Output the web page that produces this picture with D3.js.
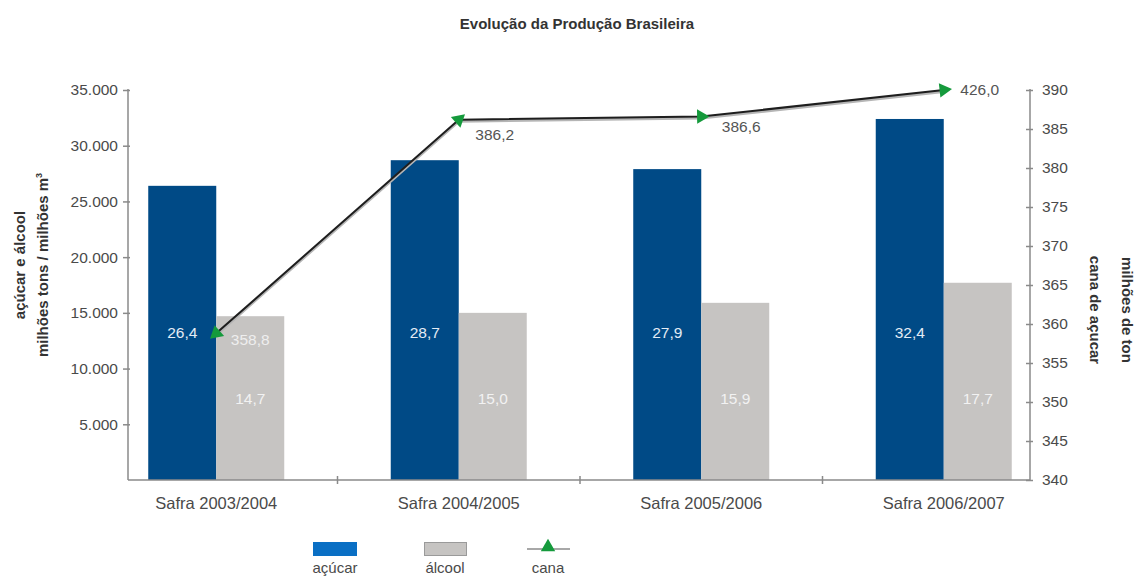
<!DOCTYPE html>
<html>
<head>
<meta charset="utf-8">
<script src="https://cdn.jsdelivr.net/npm/d3@7"></script>
<style>
  html, body { margin: 0; padding: 0; background: #ffffff; }
  svg { display: block; font-family: "Liberation Sans", Arial, Helvetica, sans-serif; }
</style>
</head>
<body>
<svg id="chart" width="1135" height="580"></svg>
<script>
// Safras (categories)
const categories = ["Safra 2003/2004", "Safra 2004/2005", "Safra 2005/2006", "Safra 2006/2007"];
// Açúcar, milhões de toneladas
const acucar = [26.4, 28.7, 27.9, 32.4];
// Álcool, milhões de m³
const alcool = [14.7, 15.0, 15.9, 17.7];
// Cana de açúcar, milhões de toneladas
const cana = [358.8, 386.2, 386.6, 426.0];
// Axis ticks
const leftTicks = [5000, 10000, 15000, 20000, 25000, 30000, 35000];
const rightTicks = [340, 345, 350, 355, 360, 365, 370, 375, 380, 385, 390];
const seriesNames = ["açúcar", "álcool"];

const ptBR = d3.formatLocale({ decimal: ",", thousands: ".", grouping: [3], currency: ["R$", ""] });
const fmtThousands = ptBR.format(",.0f");
const fmtOne = ptBR.format(".1f");

const svg = d3.select("#chart");
const plot = { left: 128, right: 1030, top: 90, bottom: 480 };

const colBlue = "#004a86";
const colGray = "#c6c4c2";
const colAxis = "#8a8a8a";
const colText = "#4a4a4a";

// Scales
const x0 = d3.scaleBand().domain(categories).range([95, 1065]);
const x1 = d3.scaleBand().domain(seriesNames).range([0, x0.bandwidth()]).paddingInner(0).paddingOuter(0.783);
const yL = d3.scaleLinear().domain([0, 35000]).range([plot.bottom, plot.top]);
// cane values above the top of the scale are pinned to its edge
const yR = d3.scaleLinear().domain([340, 390]).range([plot.bottom, plot.top]).clamp(true);

// Title
svg.append("text")
  .attr("x", 577).attr("y", 29)
  .attr("text-anchor", "middle")
  .attr("font-size", 15).attr("font-weight", "bold")
  .attr("fill", "#333")
  .text("Evolução da Produção Brasileira");

// Bars
const groups = svg.append("g").selectAll("g")
  .data(categories)
  .join("g")
  .attr("transform", d => `translate(${x0(d)},0)`);

groups.append("rect")
  .attr("x", x1("açúcar"))
  .attr("width", x1.bandwidth())
  .attr("y", (d, i) => yL(acucar[i] * 1000))
  .attr("height", (d, i) => plot.bottom - yL(acucar[i] * 1000))
  .attr("fill", colBlue);

groups.append("rect")
  .attr("x", x1("álcool"))
  .attr("width", x1.bandwidth())
  .attr("y", (d, i) => yL(alcool[i] * 1000))
  .attr("height", (d, i) => plot.bottom - yL(alcool[i] * 1000))
  .attr("fill", colGray);

// Bar value labels
groups.append("text")
  .attr("x", x1("açúcar") + x1.bandwidth() / 2)
  .attr("y", 338)
  .attr("text-anchor", "middle")
  .attr("font-size", 15.5)
  .attr("fill", "#e4ecf5")
  .text((d, i) => fmtOne(acucar[i]));

groups.append("text")
  .attr("x", x1("álcool") + x1.bandwidth() / 2)
  .attr("y", 404)
  .attr("text-anchor", "middle")
  .attr("font-size", 15.5)
  .attr("fill", "#f2f2f2")
  .text((d, i) => fmtOne(alcool[i]));

// Left axis
const axL = svg.append("g")
  .attr("transform", `translate(${plot.left},0)`)
  .call(d3.axisLeft(yL).tickValues(leftTicks).tickFormat(fmtThousands).tickSizeInner(5).tickSizeOuter(0).tickPadding(5));
axL.select(".domain").attr("stroke", colAxis).attr("stroke-width", 1.5)
  .attr("d", `M0,${plot.bottom}V${yL(35000) - 1}`);
axL.selectAll(".tick line").attr("stroke", colAxis).attr("stroke-width", 1.5).attr("x1", 2);
axL.selectAll(".tick text").attr("font-size", 15.5).attr("fill", colText).attr("font-family", "Liberation Sans, Arial, sans-serif");

// Right axis
const axR = svg.append("g")
  .attr("transform", `translate(${plot.right},0)`)
  .call(d3.axisRight(yR).tickValues(rightTicks).tickSizeInner(3).tickSizeOuter(0).tickPadding(9));
axR.select(".domain").attr("stroke", colAxis).attr("stroke-width", 1.5)
  .attr("d", `M0,${plot.bottom}V${yR(390) - 1}`);
axR.selectAll(".tick line").attr("stroke", colAxis).attr("stroke-width", 1.5).attr("x1", -4);
axR.selectAll(".tick text").attr("font-size", 15.5).attr("fill", colText).attr("font-family", "Liberation Sans, Arial, sans-serif");

// X axis baseline with separators between safras
const axX = svg.append("g");
axX.append("line")
  .attr("x1", plot.left).attr("x2", plot.right)
  .attr("y1", plot.bottom).attr("y2", plot.bottom)
  .attr("stroke", colAxis).attr("stroke-width", 1.5);
axX.selectAll("line.sep")
  .data(categories.slice(1))
  .join("line")
  .attr("class", "sep")
  .attr("x1", d => x0(d)).attr("x2", d => x0(d))
  .attr("y1", plot.bottom - 4).attr("y2", plot.bottom + 4)
  .attr("stroke", colAxis).attr("stroke-width", 1.5);
axX.selectAll("text")
  .data(categories)
  .join("text")
  .attr("x", d => x0(d) + x0.bandwidth() / 2)
  .attr("y", 509)
  .attr("text-anchor", "middle")
  .attr("font-size", 16.5)
  .attr("fill", colText)
  .text(d => d);

// Axis titles
const leftTitle = svg.append("text")
  .attr("transform", "translate(20,265) rotate(-90)")
  .attr("text-anchor", "middle")
  .attr("font-size", 15).attr("font-weight", "bold").attr("fill", "#333");
leftTitle.append("tspan").attr("x", 0).attr("y", 0).attr("dy", "0.35em").text("açúcar e álcool");
const lt2 = leftTitle.append("tspan").attr("x", 0).attr("y", 23).attr("dy", "0.35em").text("milhões  tons / milhões m");
lt2.append("tspan").attr("font-size", 9).attr("dy", "-0.7em").text("3");

const rightTitle = svg.append("text")
  .attr("transform", "translate(1127,310) rotate(90)")
  .attr("text-anchor", "middle")
  .attr("font-size", 15).attr("font-weight", "bold").attr("fill", "#333");
rightTitle.append("tspan").attr("x", 0).attr("y", 0).attr("dy", "0.35em").text("milhões de ton");
rightTitle.append("tspan").attr("x", 0).attr("y", 32).attr("dy", "0.35em").text("cana de açucar");

// Cana line
const pts = categories.map((c, i) => [x0(c) + x0.bandwidth() / 2, yR(cana[i])]);
const line = d3.line();
svg.append("path")
  .attr("d", line(pts))
  .attr("transform", "translate(0,1.5)")
  .attr("fill", "none").attr("stroke", "#b5b5b5").attr("stroke-width", 3);
svg.append("path")
  .attr("d", line(pts))
  .attr("fill", "none").attr("stroke", "#1e1e1e").attr("stroke-width", 2);

// Arrow-like triangle markers, oriented along the line
const tri = d3.symbol().type(d3.symbolTriangle).size(90);
const angleAt = i => {
  const a = i === 0 ? pts[1] : pts[i - 1];
  const b = i === 0 ? pts[0] : pts[i];
  return Math.atan2(b[1] - a[1], b[0] - a[0]) * 180 / Math.PI + 90;
};
svg.append("g").selectAll("path")
  .data(pts)
  .join("path")
  .attr("d", tri)
  .attr("transform", (d, i) => `translate(${d[0]},${d[1]}) rotate(${angleAt(i)})`)
  .attr("fill", "#159a3c");

// Cana value labels
const canaOffsets = [[34, 12], [36, 20], [40, 15], [36, 5]];
svg.append("g").selectAll("text")
  .data(pts)
  .join("text")
  .attr("x", (d, i) => d[0] + canaOffsets[i][0])
  .attr("y", (d, i) => d[1] + canaOffsets[i][1])
  .attr("text-anchor", "middle")
  .attr("font-size", 15.5)
  .attr("fill", (d, i) => i === 0 ? "#eeeeee" : "#555")
  .text((d, i) => fmtOne(cana[i]));

// Legend
const legend = svg.append("g");
legend.append("rect").attr("x", 313).attr("y", 542).attr("width", 44).attr("height", 14).attr("fill", "#0a6fc4");
legend.append("rect").attr("x", 424.5).attr("y", 542.5).attr("width", 42).attr("height", 13)
  .attr("fill", "#c6c4c2").attr("stroke", "#9a9a9a").attr("stroke-width", 1);
legend.append("line").attr("x1", 527).attr("x2", 570).attr("y1", 549).attr("y2", 549)
  .attr("stroke", "#a8a8a8").attr("stroke-width", 2);
legend.append("path").attr("d", tri).attr("transform", "translate(548,547)").attr("fill", "#159a3c");
legend.selectAll("text")
  .data([["açúcar", 335], ["álcool", 445], ["cana", 548]])
  .join("text")
  .attr("x", d => d[1]).attr("y", 573)
  .attr("text-anchor", "middle")
  .attr("font-size", 15).attr("fill", colText)
  .text(d => d[0]);
</script>
</body>
</html>
